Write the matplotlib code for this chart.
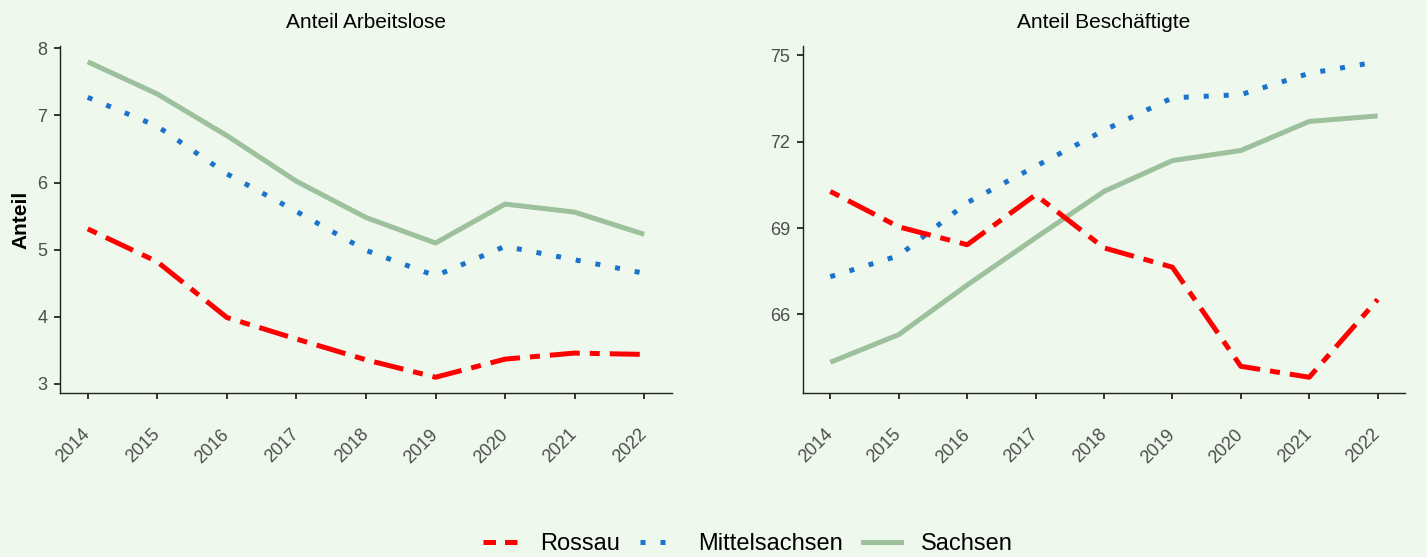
import matplotlib.pyplot as plt
from matplotlib.lines import Line2D

plt.rcParams['font.family'] = ['Liberation Sans', 'DejaVu Sans']

years = [2014, 2015, 2016, 2017, 2018, 2019, 2020, 2021, 2022]

# Anteil Arbeitslose
alo_rossau = [5.31, 4.82, 3.99, 3.67, 3.36, 3.10, 3.37, 3.46, 3.44]
alo_mittel = [7.27, 6.84, 6.13, 5.57, 4.99, 4.61, 5.05, 4.85, 4.65]
alo_sachsen = [7.80, 7.32, 6.70, 6.02, 5.48, 5.10, 5.68, 5.56, 5.23]

# Anteil Beschaeftigte
bes_rossau = [70.27, 69.04, 68.42, 70.15, 68.31, 67.64, 64.20, 63.82, 66.52]
bes_mittel = [67.31, 68.04, 69.88, 71.14, 72.39, 73.52, 73.63, 74.37, 74.77]
bes_sachsen = [64.34, 65.30, 67.02, 68.66, 70.27, 71.34, 71.69, 72.70, 72.89]

bg = '#eef8ec'
red = '#ff0000'
blue = '#1a74cd'
green = '#9dc09d'
lw = 3.6

fig = plt.figure(figsize=(14.27, 5.57), dpi=100, facecolor=bg)
ax1 = fig.add_axes([0.042, 0.2944, 0.4289, 0.623])
ax2 = fig.add_axes([0.5627, 0.2944, 0.4219, 0.623])


def draw(ax, r, m, s, title, yticks):
    ax.set_facecolor(bg)
    ax.plot(years, s, color=green, lw=lw, solid_capstyle='butt')
    ax.plot(years, m, color=blue, lw=lw, dashes=(1, 3), dash_capstyle='butt')
    ax.plot(years, r, color=red, lw=lw, dashes=(2, 2, 6, 2), dash_capstyle='butt')
    lo = min(r + m + s)
    hi = max(r + m + s)
    pad = (hi - lo) * 0.05
    ax.set_ylim(lo - pad, hi + pad)
    ax.set_xlim(2013.6, 2022.4)
    ax.set_yticks(yticks)
    ax.set_xticks(years)
    ax.set_xticklabels([str(y) for y in years], rotation=45, ha='right',
                       va='center', rotation_mode='anchor')
    for sp in ['top', 'right']:
        ax.spines[sp].set_visible(False)
    for sp in ['left', 'bottom']:
        ax.spines[sp].set_color('#222222')
        ax.spines[sp].set_linewidth(1.0)
    ax.tick_params(axis='y', length=4, width=1.4, color='#333333',
                   labelsize=13, labelcolor='#4d4d4d', pad=5)
    ax.tick_params(axis='x', length=4, width=1.4, color='#333333',
                   labelsize=13, labelcolor='#4d4d4d', pad=24)
    ax.set_title(title, fontsize=15, pad=13)


draw(ax1, alo_rossau, alo_mittel, alo_sachsen, 'Anteil Arbeitslose', [3, 4, 5, 6, 7, 8])
draw(ax2, bes_rossau, bes_mittel, bes_sachsen, 'Anteil Beschäftigte', [66, 69, 72, 75])
ax1.set_ylabel('Anteil', fontsize=15, fontweight='bold', labelpad=5)

handles = [
    Line2D([], [], color=red, lw=lw, dashes=(2.5, 1.8), dash_capstyle='butt'),
    Line2D([], [], color=blue, lw=lw, dashes=(1, 3), dash_capstyle='butt'),
    Line2D([], [], color=green, lw=lw),
]
fig.legend(handles, ['Rossau', 'Mittelsachsen', 'Sachsen'], loc='lower center',
           bbox_to_anchor=(0.524, -0.035), ncol=3, frameon=False, fontsize=17,
           handlelength=1.6, handletextpad=0.85, columnspacing=0.85)

fig.savefig('out.png', dpi=100, facecolor=bg)
